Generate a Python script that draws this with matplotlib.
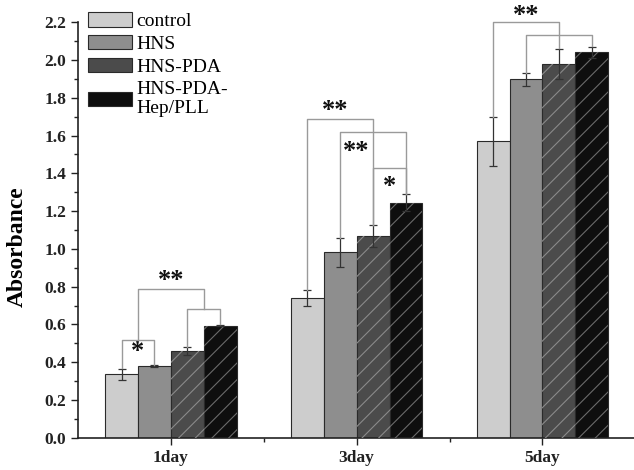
import numpy as np
import matplotlib
matplotlib.use("Agg")
import matplotlib.pyplot as plt
from matplotlib.ticker import MultipleLocator, FixedLocator

plt.rcParams["font.family"] = ["Liberation Serif", "DejaVu Serif"]
plt.rcParams["hatch.linewidth"] = 0.8

days = ["1day", "3day", "5day"]
groups = ["control", "HNS", "HNS-PDA", "HNS-PDA-\nHep/PLL"]

# absorbance per group for each day
control = [0.336, 0.740, 1.570]
hns = [0.380, 0.981, 1.897]
hns_pda = [0.460, 1.068, 1.980]
hns_pda_hep = [0.594, 1.243, 2.041]

control_err = [0.030, 0.040, 0.130]
hns_err = [0.005, 0.075, 0.035]
hns_pda_err = [0.020, 0.060, 0.080]
hns_pda_hep_err = [0.005, 0.045, 0.030]

# significance brackets: (day, left bar, right bar, height, left foot, right foot, label)
# a bar index of 0.5 / 2.5 means "middle of a lower bracket"
brackets = [
    (0, 0, 1, 0.518, 0.368, 0.386, "*"),
    (0, 2, 3, 0.682, 0.482, 0.600, ""),
    (0, 0.5, 2.5, 0.788, 0.518, 0.682, "**"),
    (1, 0, 2, 1.688, 0.780, 1.128, "**"),
    (1, 1, 3, 1.617, 1.058, 1.288, "**"),
    (1, 2, 3, 1.430, 1.128, 1.288, "*"),
    (2, 0, 2, 2.200, 1.700, 2.062, "**"),
    (2, 1, 3, 2.130, 1.932, 2.072, ""),
]
# where the stars sit: (dx in bar widths from bracket centre, dy)
star_offsets = [(0, -0.06), None, (0, 0.045), (-0.15, 0.045), (-0.5, -0.1),
                (0, -0.1), (0, 0.035), None]

values = [control, hns, hns_pda, hns_pda_hep]
errors = [control_err, hns_err, hns_pda_err, hns_pda_hep_err]
colors = ["#cdcdcd", "#8e8e8e", "#4b4b4b", "#0e0e0e"]
hatches = [None, None, "//", "//"]
hatch_cols = [None, None, "#8a8a8a", "#6a6a6a"]

fig = plt.figure(figsize=(6.34, 4.70), dpi=100)
ax = fig.add_axes([0.123, 0.0687, 0.879, 0.884])

x = np.arange(1, len(days) + 1)
w = 0.177
offs = (np.arange(len(groups)) - 1.5) * w

for i in range(len(groups)):
    ax.bar(x + offs[i], values[i], w, color=colors[i], edgecolor="#2a2a2a",
           linewidth=0.8, label=groups[i], zorder=2)
    if hatches[i]:
        ax.bar(x + offs[i], values[i], w, fill=False, hatch=hatches[i],
               edgecolor=hatch_cols[i], linewidth=0, zorder=3)
    ax.errorbar(x + offs[i], values[i], yerr=errors[i], fmt="none",
                ecolor="#333333", elinewidth=0.9, capsize=3, capthick=0.9, zorder=4)

bcol = "#9a9a9a"
for k, (d, a, b, h, fa, fb, lab) in enumerate(brackets):
    def pos(j):
        lo = int(np.floor(j))
        return x[d] + offs[lo] + (j - lo) * w
    xa, xb = pos(a), pos(b)
    ax.plot([xa, xa, xb, xb], [fa, h, h, fb], color=bcol, lw=1.0,
            zorder=5, clip_on=False)
    if lab:
        dx, dy = star_offsets[k]
        ax.text((xa + xb) / 2 + dx * w, h + dy, lab, ha="center", va="center",
                fontsize=19, fontweight="bold", color="#111111", clip_on=False)

ax.set_xlim(0.5, 3.5)
ax.set_ylim(0, 2.2)
ax.set_xticks(x)
ax.set_xticklabels(days)
ax.xaxis.set_minor_locator(FixedLocator([1.5, 2.5]))
ax.yaxis.set_major_locator(MultipleLocator(0.2))
ax.yaxis.set_minor_locator(MultipleLocator(0.1))
ax.yaxis.set_major_formatter(plt.FuncFormatter(lambda v, p: f"{v:.1f}"))
ax.tick_params(which="major", direction="out", length=5, width=1.0,
               labelsize=12.5, colors="#222222")
ax.tick_params(which="minor", direction="out", length=3, width=1.0, colors="#222222")
for t in ax.get_xticklabels() + ax.get_yticklabels():
    t.set_fontweight("bold")
for s in ["top", "right"]:
    ax.spines[s].set_visible(False)
for s in ["left", "bottom"]:
    ax.spines[s].set_linewidth(1.2)
    ax.spines[s].set_color("#222222")

ax.set_ylabel("Absorbance", fontsize=17, fontweight="bold")
ax.yaxis.set_label_coords(-0.09, 0.46)

ax.legend(loc="upper left", bbox_to_anchor=(0.126, 0.99),
          bbox_transform=fig.transFigure, frameon=False, fontsize=14,
          handlelength=2.3, handleheight=0.75, handletextpad=0.2,
          labelspacing=0.25, borderaxespad=0)

fig.savefig("out.png", dpi=100)
